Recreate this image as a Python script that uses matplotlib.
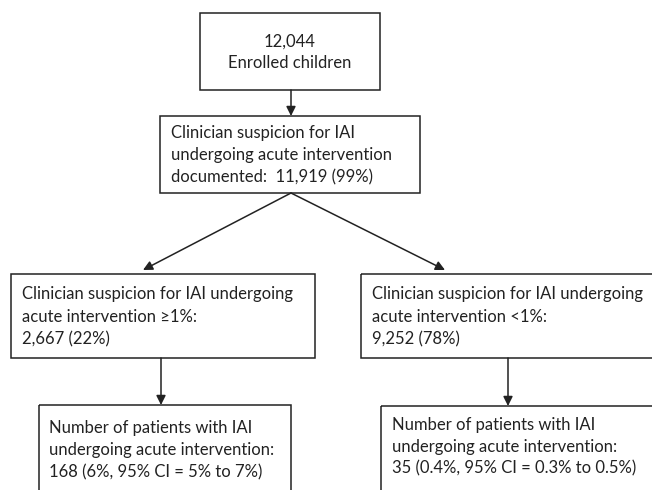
import matplotlib
matplotlib.use("Agg")
import matplotlib.pyplot as plt
from matplotlib.patches import Rectangle

plt.rcParams["font.family"] = ["Lato", "DejaVu Sans"]

# box texts (one list of lines per box)
top_lines = ["12,044", "Enrolled children"]
documented_lines = ["Clinician suspicion for IAI",
                    "undergoing acute intervention",
                    "documented:  11,919 (99%)"]
high_lines = ["Clinician suspicion for IAI undergoing",
              "acute intervention \u22651%:",
              "2,667 (22%)"]
low_lines = ["Clinician suspicion for IAI undergoing",
             "acute intervention <1%:",
             "9,252 (78%)"]
high_out_lines = ["Number of patients with IAI",
                  "undergoing acute intervention:",
                  "168 (6%, 95% CI = 5% to 7%)"]
low_out_lines = ["Number of patients with IAI",
                 "undergoing acute intervention:",
                 "35 (0.4%, 95% CI = 0.3% to 0.5%)"]

W, H = 652, 490
fig = plt.figure(figsize=(W / 100, H / 100), dpi=100)
ax = fig.add_axes([0, 0, 1, 1])
ax.set_xlim(0, W)
ax.set_ylim(H, 0)
ax.axis("off")

FS = 12
LW = 1.1
INK = "#222222"


def box(x0, y0, x1, y1):
    ax.add_patch(Rectangle((x0, y0), x1 - x0, y1 - y0, fill=False,
                           edgecolor=INK, linewidth=LW, clip_on=True))


def lines(x, ys, texts, ha="left"):
    for y, t in zip(ys, texts):
        ax.text(x, y, t, ha=ha, va="center", fontsize=FS, color=INK)


def arrow(x0, y0, x1, y1):
    ax.annotate("", xy=(x1, y1), xytext=(x0, y0),
                arrowprops=dict(arrowstyle="-|>", color=INK, lw=LW,
                                mutation_scale=14, shrinkA=0, shrinkB=0))


box(200, 13, 380, 90)
lines(290, [42, 63], top_lines, ha="center")

box(160, 116, 420, 193)
lines(171, [133, 155, 177], documented_lines)

box(11, 274, 315, 358)
lines(22, [294, 317, 339], high_lines)

box(361, 274, 700, 358)
lines(372, [294, 317, 339], low_lines)

box(39, 405, 291, 520)
lines(49, [428, 450, 472], high_out_lines)

box(381, 406, 700, 520)
lines(392, [425, 447, 468], low_out_lines)

arrow(291, 90, 291, 116)
arrow(291, 193, 143, 270)
arrow(291, 193, 445, 270)
arrow(161, 358, 161, 405)
arrow(508, 358, 508, 406)

fig.savefig("out.png", dpi=100)
